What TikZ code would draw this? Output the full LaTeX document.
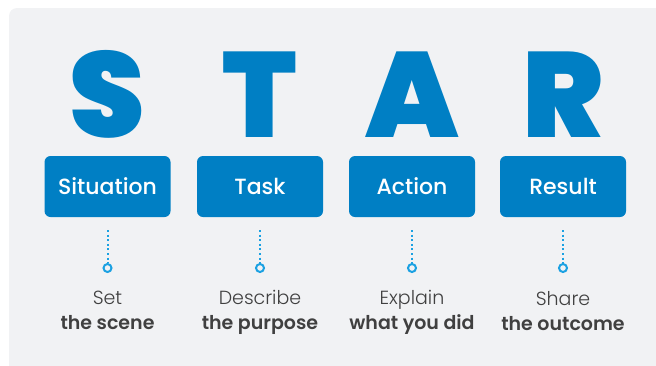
\documentclass[tikz,border=0pt]{standalone}
\usepackage{fontspec}
\setmainfont{Poppins}
\newfontfamily\starfont{Poppins Black}
\newfontfamily\boxfont{Poppins Medium}
\newfontfamily\lightfont{Poppins Light}
\newfontfamily\semifont{Poppins SemiBold}
\definecolor{panelgray}{RGB}{241,242,244}
\definecolor{starblue}{RGB}{0,127,196}
\definecolor{dotblue}{RGB}{27,161,226}
\definecolor{textgray}{RGB}{64,64,64}
\tikzset{
  bigletter/.style={text=starblue, font=\starfont\fontsize{121}{121}\selectfont, inner sep=0pt, anchor=base},
  stepbox/.style={fill=starblue, text=white, rounded corners=6pt, minimum width=126pt, minimum height=61pt, inner sep=0pt, font=\boxfont\fontsize{22}{22}\selectfont},
  pin/.style={circle, draw=dotblue, line width=2pt, fill=panelgray, minimum size=8pt, inner sep=0pt},
  dotline/.style={dotblue, line width=2pt, dash pattern=on 2pt off 2.6pt, line cap=butt},
  caption/.style={text=textgray, align=center, font=\fontsize{19}{25}\selectfont, inner sep=0pt, anchor=north}
}
\begin{document}
\begin{tikzpicture}[x=1pt,y=-1pt]
        \useasboundingbox (0,0) rectangle (656,365);
        \begin{scope}
        \clip (0,0) rectangle (656,365);
        \fill[panelgray, rounded corners=8pt] (9,8) rectangle (680,390);
        \end{scope}
        % letters
        \node[bigletter] (ls) at (107.5,137) {S};
        \node[bigletter] (lt) at (260,137) {T};
        \node[bigletter] (la) at (412,137) {A};
        \node[bigletter] (lr) at (563,137) {R};
        % boxes
        \node[stepbox] (sit) at (107.5,186.5) {Situation};
        \node[stepbox] (task) at (260,186.5) {Task};
        \node[stepbox] (act) at (412,186.5) {Action};
        \node[stepbox] (res) at (563,186.5) {Result};
        % pins
        \node[pin] (p1) at (107.5,268) {};
        \node[pin] (p2) at (260,268) {};
        \node[pin] (p3) at (412,268) {};
        \node[pin] (p4) at (563,268) {};
        \coordinate (c1) at (107.5,230);
        \coordinate (c2) at (260,230);
        \coordinate (c3) at (412,230);
        \coordinate (c4) at (563,230);
        \draw[dotline] (c1) -- (p1.north);
        \draw[dotline] (c2) -- (p2.north);
        \draw[dotline] (c3) -- (p3.north);
        \draw[dotline] (c4) -- (p4.north);
        % captions
        \node[caption] (t1) at (107.5,291) {{\lightfont Set}\\{\semifont the scene}};
        \node[caption] (t2) at (260,290) {{\lightfont Describe}\\{\semifont the purpose}};
        \node[caption] (t3) at (412,290) {{\lightfont Explain}\\{\semifont what you did}};
        \node[caption] (t4) at (563,291) {{\lightfont Share}\\{\semifont the outcome}};
\end{tikzpicture}
\end{document}
